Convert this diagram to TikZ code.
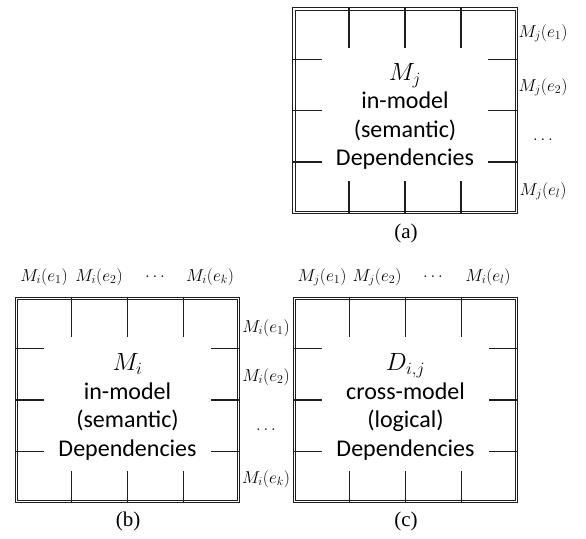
\documentclass[tikz,border=0pt]{standalone}
\usepackage{fontspec}
\setmainfont{Carlito}
\newfontfamily\capfont{Liberation Serif}
\usetikzlibrary{calc}
\definecolor{ink}{RGB}{30,30,30}
% double frame and the cut grid lines of one box
\newcommand\gridticks[1]{%
  \draw[frame] (#1.north west) rectangle (#1.south east);
  \draw[frame] ($(#1.north west)+(2.2,2.2)$) rectangle ($(#1.south east)+(-2.2,-2.2)$);
  \foreach \f in {0.25,0.5,0.75}{%
    \draw[tick] ($(#1.north west)!\f!(#1.north east)$) -- ++(0,40);
    \draw[tick] ($(#1.south west)!\f!(#1.south east)$) -- ++(0,-32);
    \draw[tick] ($(#1.north west)!\f!(#1.south west)$) -- ++(29,0);
    \draw[tick] ($(#1.north east)!\f!(#1.south east)$) -- ++(-29,0);
  }}
\begin{document}
\begin{tikzpicture}[x=1pt,y=-1pt,
    gridbox/.style={minimum width=224pt,minimum height=205pt,inner sep=0pt},
    boxtext/.style={inner sep=0pt,align=center,font=\fontsize{24}{28.5}\selectfont},
    frame/.style={draw=ink,line width=0.8pt},
    tick/.style={draw=ink,line width=1.3pt},
    elab/.style={inner sep=0pt,font=\fontsize{17.5}{20}\selectfont},
    subcap/.style={inner sep=0pt,font=\capfont\fontsize{21}{24}\selectfont}]
    \useasboundingbox (0,0) rectangle (586,538);
    % (a)
    \node[gridbox] (mj) at (405,110.5) {};
    \gridticks{mj}
    \node[boxtext] (mjt) at ($(mj.center)+(0,6)$) {$M_j$\\in-model\\(semantic)\\Dependencies};
    \node[elab] (mj1) at (543,33) {$M_j(e_1)$};
    \node[elab] (mj2) at (543,87) {$M_j(e_2)$};
    \node[elab] (mj3) at (543,140) {$\dots$};
    \node[elab] (mj4) at (543,191) {$M_j(e_l)$};
    \node[subcap] (capa) at (406,233) {(a)};
    % (b)
    \node[gridbox] (mi) at (127.5,400) {};
    \gridticks{mi}
    \node[boxtext] (mit) at ($(mi.center)+(0,7)$) {$M_i$\\in-model\\(semantic)\\Dependencies};
    \node[elab] (mit1) at (44,277) {$M_i(e_1)$};
    \node[elab] (mit2) at (99,277) {$M_i(e_2)$};
    \node[elab] (mit3) at (155,277) {$\dots$};
    \node[elab] (mit4) at (210,277) {$M_i(e_k)$};
    \node[elab] (mir1) at (266,328) {$M_i(e_1)$};
    \node[elab] (mir2) at (266,377) {$M_i(e_2)$};
    \node[elab] (mir3) at (266,430) {$\dots$};
    \node[elab] (mir4) at (266,479) {$M_i(e_k)$};
    \node[subcap] (capb) at (128,521) {(b)};
    % (c)
    \node[gridbox] (dij) at (405.5,400) {};
    \gridticks{dij}
    \node[boxtext] (dijt) at ($(dij.center)+(0,7)$) {$D_{i,j}$\\cross-model\\(logical)\\Dependencies};
    \node[elab] (dt1) at (322,277) {$M_j(e_1)$};
    \node[elab] (dt2) at (377,277) {$M_j(e_2)$};
    \node[elab] (dt3) at (433,277) {$\dots$};
    \node[elab] (dt4) at (488,277) {$M_i(e_l)$};
    \node[subcap] (capc) at (406,521) {(c)};
\end{tikzpicture}
\end{document}
